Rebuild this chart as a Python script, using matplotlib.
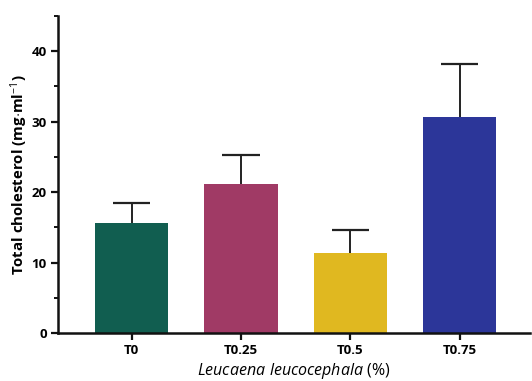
import matplotlib
matplotlib.use("Agg")
import matplotlib.pyplot as plt
from matplotlib.ticker import MultipleLocator

plt.rcParams["font.family"] = ["Open Sans", "DejaVu Sans"]
plt.rcParams["mathtext.fontset"] = "custom"
plt.rcParams["mathtext.rm"] = "Open Sans"
plt.rcParams["mathtext.it"] = "Open Sans:italic"
plt.rcParams["mathtext.bf"] = "Open Sans:bold"

groups = ["T0", "T0.25", "T0.5", "T0.75"]
means = [15.6, 21.1, 11.35, 30.6]
sd = [2.8, 4.1, 3.2, 7.6]
colors = ["#115E50", "#A03A65", "#E0B820", "#2C3699"]

fig = plt.figure(figsize=(5.32, 3.81), dpi=100)
ax = fig.add_axes([0.109, 0.126, 0.888, 0.832])

x = list(range(len(groups)))
ax.bar(x, means, width=0.67, color=colors, zorder=2)

# upper-only error bars: stem from bar top plus a cap
tops = [m + s for m, s in zip(means, sd)]
cap = 0.17
ax.vlines(x, means, tops, color="#222222", lw=1.4, zorder=1)
ax.hlines(tops, [i - cap for i in x], [i + cap for i in x],
          color="#222222", lw=1.6, zorder=1)

ax.set_xlim(-0.673, 3.645)
ax.set_ylim(0, 45)
ax.yaxis.set_major_locator(MultipleLocator(10))
ax.yaxis.set_minor_locator(MultipleLocator(5))
ax.set_xticks(x)
ax.set_xticklabels(groups, fontsize=9.5, fontweight="bold")
for lab in ax.get_yticklabels():
    lab.set_fontweight("bold")
    lab.set_fontsize(9.5)

for side in ("top", "right"):
    ax.spines[side].set_visible(False)
for side in ("left", "bottom"):
    ax.spines[side].set_linewidth(1.8)
    ax.spines[side].set_color("#111111")
ax.tick_params(axis="both", which="major", length=5, width=1.6, color="#111111", pad=3)
ax.tick_params(axis="y", which="minor", length=3, width=1.4, color="#111111")

ax.set_ylabel(r"Total cholesterol (mg$\cdot$ml$^{-1}$)", fontsize=10.8,
              fontweight="bold", labelpad=1)
ax.set_xlabel(r"$\it{Leucaena\ leucocephala}$ (%)", fontsize=11.5, labelpad=3)

fig.savefig("out.png", dpi=100)
